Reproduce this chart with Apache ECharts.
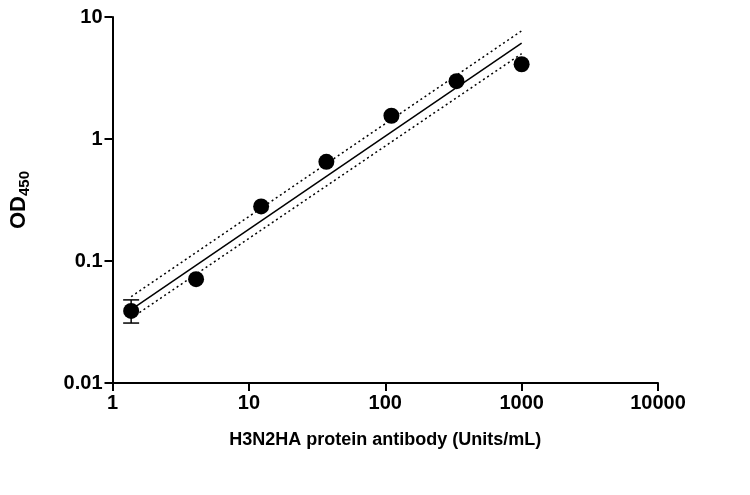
<!DOCTYPE html><html><head><meta charset="utf-8">
<script src="https://cdn.jsdelivr.net/npm/echarts@6/dist/echarts.min.js"></script>
<style>body{margin:0}#c{width:750px;height:495px}</style></head><body><div id="c"></div>
<script>
const xVals=[1.37,4.1,12.3,37,111,333,1000];
const yVals=[0.039,0.071,0.28,0.65,1.55,2.98,4.1];
const errLow=[0.031], errHigh=[0.048];
const fitX=[1.37,1000];
const fitY=[0.04,6.1];
const upperY=[0.051,7.7];
const lowerY=[0.034,5.0];
const font='Liberation Sans, Arial, sans-serif';
const ch=echarts.init(document.getElementById('c'));
const lbl={color:'#000',fontSize:20,fontWeight:'bold',fontFamily:font};
ch.setOption({
 animation:false,
 grid:{left:108,right:92,top:17,bottom:112},
 xAxis:{type:'log',logBase:10,min:1,max:10000,
  name:'H3N2HA protein antibody (Units/mL)',nameLocation:'middle',nameGap:48,
  nameTextStyle:{color:'#000',fontSize:18,fontWeight:'bold',fontFamily:font},
  axisLine:{lineStyle:{color:'#000',width:2}},axisTick:{length:8,lineStyle:{color:'#000',width:2}},
  splitLine:{show:false},minorTick:{show:false},
  axisLabel:Object.assign({margin:10,formatter:v=>String(Math.round(v))},lbl)},
 yAxis:{type:'log',logBase:10,min:0.01,max:10,
  name:'{a|OD}{b|450}',nameLocation:'middle',nameGap:80,nameRotate:90,
  nameTextStyle:{rich:{a:{color:'#000',fontSize:22,fontWeight:'bold',fontFamily:font},b:{color:'#000',fontSize:15,fontWeight:'bold',fontFamily:font,padding:[12,0,0,0]}}},
  axisLine:{show:true,lineStyle:{color:'#000',width:2}},axisTick:{show:true,length:8,lineStyle:{color:'#000',width:2}},
  splitLine:{show:false},
  axisLabel:Object.assign({margin:10,formatter:v=>v>=1?String(Math.round(v)):String(+v.toPrecision(1))},lbl)},
 series:[
  {type:'line',data:fitX.map((x,i)=>[x,fitY[i]]),symbol:'none',lineStyle:{color:'#000',width:1.5}},
  {type:'line',data:fitX.map((x,i)=>[x,upperY[i]]),symbol:'none',lineStyle:{color:'#000',width:1.5,type:[2,3]}},
  {type:'line',data:fitX.map((x,i)=>[x,lowerY[i]]),symbol:'none',lineStyle:{color:'#000',width:1.5,type:[2,3]}},
  {type:'custom',data:[[xVals[0],errLow[0],errHigh[0]]],renderItem:(p,api)=>{
    const a=api.coord([api.value(0),api.value(1)]),b=api.coord([api.value(0),api.value(2)]);
    const s={stroke:'#000',lineWidth:1.5};
    return {type:'group',children:[
     {type:'line',shape:{x1:a[0],y1:a[1],x2:b[0],y2:b[1]},style:s},
     {type:'line',shape:{x1:a[0]-8,y1:a[1],x2:a[0]+8,y2:a[1]},style:s},
     {type:'line',shape:{x1:b[0]-8,y1:b[1],x2:b[0]+8,y2:b[1]},style:s}]};
  }},
  {type:'scatter',data:xVals.map((x,i)=>[x,yVals[i]]),symbolSize:16,itemStyle:{color:'#000',opacity:1},z:5}
 ]
});
</script></body></html>
